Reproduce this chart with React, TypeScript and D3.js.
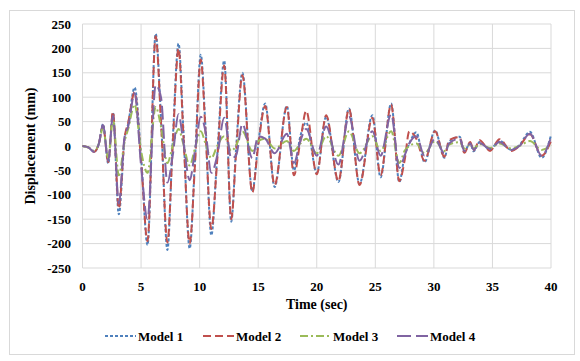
import React from "react";
import * as d3 from "d3";

const times = [0, 0.5, 1.0, 1.4, 1.75, 2.2, 2.6, 3.1, 3.6, 3.9, 4.45, 5.0, 5.55, 6.25, 6.7, 7.25, 7.7, 8.2, 8.6, 9.15, 9.6, 10.1, 10.5, 11.0, 11.5, 12.1, 12.7, 13.1, 13.65, 14.5, 15.0, 15.6, 16.4, 17.45, 18.05, 18.6, 19.1, 20.0, 20.8, 21.85, 22.75, 23.65, 24.75, 25.45, 26.35, 27.05, 27.5, 27.9, 28.5, 29.2, 30.1, 30.9, 31.3, 32.2, 32.6, 33.1, 33.4, 33.9, 34.8, 35.6, 36.6, 37.3, 38.2, 39.2, 40];

const model1 = [0, -3, -12, 5, 45, -36, 68, -140, 15, 45, 120, -20, -203, 230, 60, -213, 10, 210, 40, -210, -30, 187, 40, -183, -20, 175, -155, -10, 150, -92, 5, 87, -84, 82, -50, 20, 48, -55, 60, -74, 77, -78, 63, -64, 87, -74, -20, 5, 28, -33, 32, -24, 9, 19, -11, 6, -11, 8, -7, 11, -8, 2, 29, -24, 22];
const model2 = [0, -3, -12, 5, 42, -33, 70, -128, 18, 48, 110, -30, -195, 225, 50, -198, 0, 200, 30, -200, -40, 177, 30, -170, -30, 165, -150, -20, 145, -95, 0, 82, -80, 80, -60, 10, 72, -58, 63, -72, 76, -80, 58, -60, 85, -72, -30, 30, 15, -30, 30, -22, 12, 18, -14, 8, -9, 12, -10, 14, -10, 0, 24, -20, 10];
const model3 = [0, -3, -10, 5, 38, -25, 55, -60, 10, 35, 85, -10, -55, 80, 40, -35, 0, 35, 5, -40, -5, 30, 5, -25, 0, 20, -10, 0, 30, -10, 10, 15, -5, 10, -10, 5, 15, -15, 20, -20, 30, -15, 20, -10, 30, -35, -10, 0, 5, -15, 10, -10, 3, 8, -5, 3, -5, 4, -4, 5, -5, 0, 10, -8, 2];
const model4 = [0, -3, -12, 5, 43, -30, 62, -118, 20, 40, 108, -40, -150, 125, 100, -75, -20, 65, 10, -70, -10, 60, 30, -55, -20, 58, -25, -20, 45, -25, 20, 15, -15, 25, -35, 10, 35, -20, 40, -38, 60, -30, 30, -20, 65, -45, -20, 5, 20, -20, 15, -15, 5, 15, -10, 5, -8, 6, -6, 8, -8, 0, 25, -20, 18];

const seriesNames = ["Model 1", "Model 2", "Model 3", "Model 4"];
const seriesValues = [model1, model2, model3, model4];
const seriesColors = ["#4F81BD", "#C0504D", "#9BBB59", "#8064A2"];
const seriesDash = ["3,2", "8,4", "8,3,2,3", "14,5"];

const xTicks = [0, 5, 10, 15, 20, 25, 30, 35, 40];
const yTicks = [-250, -200, -150, -100, -50, 0, 50, 100, 150, 200, 250];

export default function App() {
  const W = 580, H = 361;
  const left = 82.5, right = 551, top = 24, bottom = 268;
  const x = d3.scaleLinear().domain([0, 40]).range([left, right]);
  const y = d3.scaleLinear().domain([-250, 250]).range([bottom, top]);
  const line = d3
    .line<number>()
    .x((_, i) => x(times[i]))
    .y((v) => y(v))
    .curve(d3.curveMonotoneX);
  const font = "'Liberation Serif', serif";
  const legendX = [105, 203, 300, 397];
  return (
    <svg width={W} height={H} style={{ position: "absolute", left: 0, top: 0 }} fontFamily={font}>
      <rect x={0} y={0} width={W} height={H} fill="#fff" />
      <rect x={9.5} y={10.5} width={565} height={344} fill="#fff" stroke="#D9D9D9" />
      {yTicks.map((t) => (
        <line key={"gy" + t} x1={left} x2={right} y1={y(t)} y2={y(t)} stroke="#D9D9D9" strokeWidth={1} />
      ))}
      {xTicks.map((t) => (
        <line key={"gx" + t} x1={x(t)} x2={x(t)} y1={top} y2={bottom} stroke="#D9D9D9" strokeWidth={1} />
      ))}
      {seriesValues.map((vals, i) => (
        <path
          key={seriesNames[i]}
          d={line(vals) || ""}
          fill="none"
          stroke={seriesColors[i]}
          strokeWidth={2}
          strokeDasharray={seriesDash[i]}
        />
      ))}
      {yTicks.map((t) => (
        <text key={"ty" + t} x={71} y={y(t)} dy="0.35em" textAnchor="end" fontSize={13} fontWeight="bold" fill="#000">
          {t}
        </text>
      ))}
      {xTicks.map((t) => (
        <text key={"tx" + t} x={x(t)} y={286} dy="0.35em" textAnchor="middle" fontSize={13} fontWeight="bold" fill="#000">
          {t}
        </text>
      ))}
      <text x={(left + right) / 2} y={304} dy="0.35em" textAnchor="middle" fontSize={14} fontWeight="bold" fill="#000">
        Time (sec)
      </text>
      <text
        transform={`translate(30,${(top + bottom) / 2}) rotate(-90)`}
        dy="0.35em"
        textAnchor="middle"
        fontSize={14}
        fontWeight="bold"
        fill="#000"
      >
        Displacement (mm)
      </text>
      {seriesNames.map((n, i) => (
        <g key={"lg" + n} transform={`translate(${legendX[i]},336)`}>
          <line x1={0} x2={31} y1={0} y2={0} stroke={seriesColors[i]} strokeWidth={2} strokeDasharray={seriesDash[i]} />
          <text x={33} y={0} dy="0.35em" fontSize={13} fontWeight="bold" fill="#000">
            {n}
          </text>
        </g>
      ))}
    </svg>
  );
}
